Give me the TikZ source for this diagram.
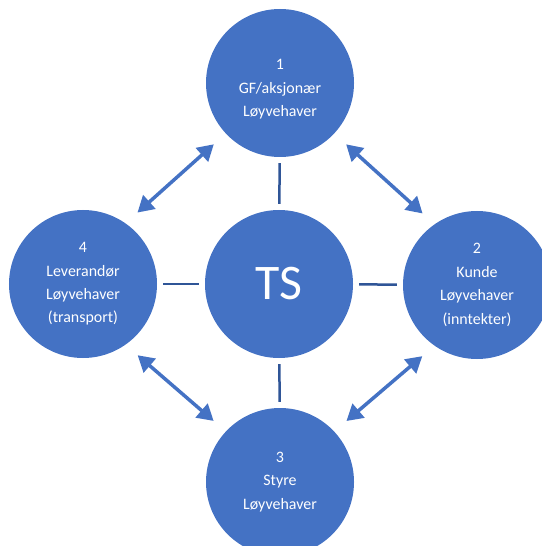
\documentclass[tikz,border=0pt]{standalone}
\usepackage{fontspec}
\setmainfont{Carlito}
\usetikzlibrary{arrows.meta}
\definecolor{tsblue}{HTML}{4472C4}
\definecolor{tsdark}{HTML}{2F5597}
\tikzset{
  party/.style={circle, fill=tsblue, text=white, minimum size=148bp, inner sep=0pt,
    align=center, font=\fontsize{16}{23.5}\selectfont},
  link/.style={draw=tsdark, line width=2.5bp, shorten >=6bp, shorten <=6bp},
  dbl/.style={draw=tsblue, line width=3.5bp, {Triangle[length=16bp,width=18bp]}-{Triangle[length=16bp,width=18bp]},
    shorten >=16bp, shorten <=16bp}
}
\begin{document}
\begin{tikzpicture}[x=1bp,y=-1bp]
\clip (0,0) rectangle (542,546);
\node[party] (n1) at (280,83) {\rule{0pt}{23bp}1\\GF/aksjonær\\Løyvehaver};
\node[party] (n2) at (477,285) {2\\Kunde\\Løyvehaver\\(inntekter)};
\node[party] (n3) at (280,482) {3\\Styre\\Løyvehaver};
\node[party] (n4) at (83,284) {4\\Leverandør\\Løyvehaver\\(transport)};
\node[party, font=\fontsize{50}{50}\selectfont] (ts) at (279,284) {TS};
\draw[link] (ts) -- (n1);
\draw[link] (ts) -- (n2);
\draw[link] (ts) -- (n3);
\draw[link] (ts) -- (n4);
\draw[dbl] (n4.55) -- (n1.223);
\draw[dbl] (n1.317) -- (n2.125);
\draw[dbl] (n2.235) -- (n3.43);
\draw[dbl] (n3.137) -- (n4.305);
\end{tikzpicture}
\end{document}
